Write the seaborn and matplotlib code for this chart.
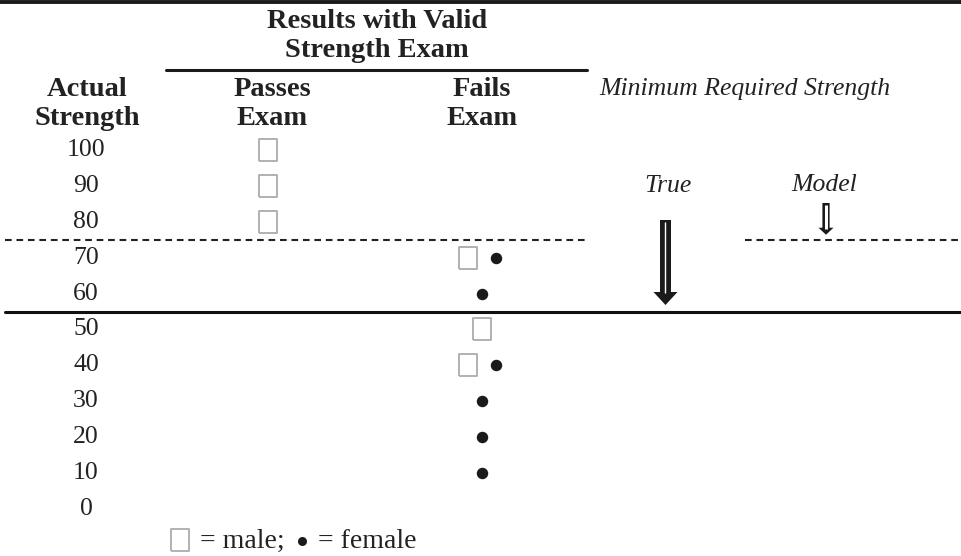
import numpy as np
import pandas as pd
import matplotlib
matplotlib.use("Agg")
import matplotlib.pyplot as plt
from matplotlib.transforms import Affine2D
import seaborn as sns

# ---------------- data ----------------
strength_levels = [100, 90, 80, 70, 60, 50, 40, 30, 20, 10, 0]
male_pass = [100, 90, 80]
male_fail = [70, 50, 40]
female_pass = []
female_fail = [70, 60, 40, 30, 20, 10]
model_threshold = 75
true_threshold = 55

col_headers = ["Passes\nExam", "Fails\nExam"]
group_header = "Results with Valid\nStrength Exam"
row_header = "Actual\nStrength"
right_header = "Minimum Required Strength"
arrow_labels = ["True", "Model"]
legend_parts = ["= male;", "= female"]

# ---------------- layout ----------------
W, H = 962, 556
sns.set_theme(style="white")
plt.rcParams["font.family"] = ["Liberation Serif", "DejaVu Serif"]

fig = plt.figure(figsize=(W / 100, H / 100), dpi=100)
ax = fig.add_axes([0, 0, 1, 1])
# y axis in strength units, x axis in layout units
y0, slope = 508.9, 3.589
ax.set_xlim(0, W)
ax.set_ylim((y0 - H) / slope, y0 / slope)
ax.axis("off")

# pixel transform (x from left, y from top)
px = Affine2D().scale(1 / W, -1 / H).translate(0, 1) + fig.transFigure

col_x = {"Passes": 268, "Fails": 482}
pair_off = 14


def positions(male_vals, female_vals, cx):
    rows = []
    for v in male_vals:
        rows.append((cx - pair_off if v in female_vals else cx, v, "male"))
    for v in female_vals:
        rows.append((cx + pair_off if v in male_vals else cx, v, "female"))
    return rows


rows = positions(male_pass, female_pass, col_x["Passes"]) + positions(male_fail, female_fail, col_x["Fails"])
df = pd.DataFrame(rows, columns=["x", "strength", "sex"])

rect = [(-0.4, -0.5), (0.4, -0.5), (0.4, 0.5), (-0.4, 0.5), (-0.4, -0.5)]
sq_size = 240
sns.scatterplot(data=df[df.sex == "male"], x="x", y="strength", marker=rect, s=sq_size,
                color="white", edgecolor="#ababab", linewidth=1.3, ax=ax, legend=False, zorder=3)
sns.scatterplot(data=df[df.sex == "female"], x="x", y="strength", marker="o", s=68,
                color="#1a1a1a", edgecolor="#1a1a1a", linewidth=0, ax=ax, legend=False, zorder=3)

# row labels
for v in strength_levels:
    ax.text(86, v, f"{v}", ha="center", va="center", fontsize=18.5, color="#222222")

# threshold lines
dash = (0, (3.2, 2.3))
ax.plot([5, 587], [model_threshold] * 2, ls=dash, color="#222222", lw=1.5)
ax.plot([745, W], [model_threshold] * 2, ls=dash, color="#222222", lw=1.5)
ax.plot([5, W], [true_threshold] * 2, ls="-", color="#111111", lw=2.2)

# top rule and header rule
fig.add_artist(plt.Line2D([0, W], [2, 2], transform=px, color="#1a1a1a", lw=2.8))
fig.add_artist(plt.Line2D([166, 587], [70, 70], transform=px, color="#1a1a1a", lw=2.2))

# headers
hdr = dict(ha="center", va="center", fontsize=20.5, fontweight="bold", color="#222222",
           linespacing=1.2, transform=px)
fig.text(377, 36, group_header, **hdr)
fig.text(87, 104, row_header, **hdr)
fig.text(272, 104, col_headers[0], **hdr)
fig.text(482, 104, col_headers[1], **hdr)
fig.text(745, 89, right_header, ha="center", va="center", fontsize=18.5, style="italic",
         color="#222222", transform=px)
fig.text(668, 186, arrow_labels[0], ha="center", va="center", fontsize=18.5, style="italic",
         color="#222222", transform=px)
fig.text(824, 185, arrow_labels[1], ha="center", va="center", fontsize=18.5, style="italic",
         color="#222222", transform=px)


def spx(v):
    return y0 - slope * v


def ys(p):
    return (y0 - p) / slope


# arrows (x in layout units, vertical positions in pixels from top)
def arrow(cx, top, tip, shaft_hw, head_hw, head_len, inner_w):
    head_top = tip - head_len
    xs = [cx - shaft_hw, cx + shaft_hw, cx + shaft_hw, cx + head_hw, cx, cx - head_hw, cx - shaft_hw]
    yy = [top, top, head_top, head_top, tip, head_top, head_top]
    ax.fill(xs, [ys(p) for p in yy], color="#1a1a1a", lw=0, zorder=4)
    ax.plot([cx, cx], [ys(top + 2), ys(head_top + 1)], color="white", lw=inner_w, zorder=5,
            solid_capstyle="butt")


arrow(665.5, 220, spx(true_threshold) - 6.5, 5.5, 12, 13, 1.0)
arrow(826, 203, spx(model_threshold) - 5, 3.6, 7.5, 7, 2.2)

# legend
sns.scatterplot(x=[180], y=[ys(540)], marker=rect, s=sq_size, color="white",
                edgecolor="#ababab", linewidth=1.3, ax=ax, legend=False)
sns.scatterplot(x=[302], y=[ys(541)], marker="o", s=42, color="#1a1a1a",
                linewidth=0, ax=ax, legend=False)
fig.text(200, 541, legend_parts[0], ha="left", va="center", fontsize=20, color="#222222", transform=px)
fig.text(318, 541, legend_parts[1], ha="left", va="center", fontsize=20, color="#222222", transform=px)
ax.set_xlabel("")
ax.set_ylabel("")

fig.savefig("out.png", dpi=100)
